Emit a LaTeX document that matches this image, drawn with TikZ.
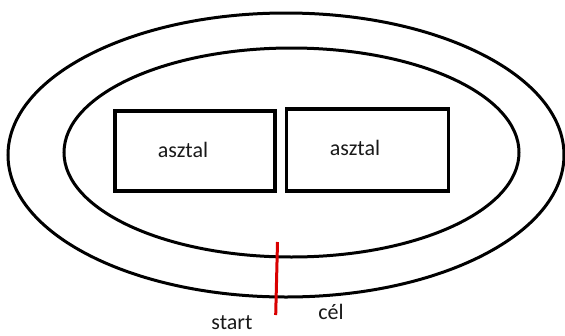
\documentclass[tikz,border=0pt]{standalone}
\usepackage{fontspec}
\setmainfont{Carlito}
\usetikzlibrary{shapes.geometric}
\begin{document}
\begin{tikzpicture}[x=1pt,y=-1pt,
  track/.style={draw=black, line width=3pt, ellipse, inner sep=0pt},
  table/.style={draw=black, line width=3.5pt, rectangle, inner sep=0pt},
  lbl/.style={font=\fontsize{22}{26}\selectfont, text=black!90, inner sep=0pt}]
\useasboundingbox (0,0) rectangle (565,335);
\node[track, minimum width=556pt, minimum height=284pt] (outer) at (286,155) {};
\node[track, minimum width=455pt, minimum height=209pt] (inner) at (291.5,152.5) {};
\node[table, minimum width=160pt, minimum height=80pt] (t1) at (195,151) {};
\node[table, minimum width=162pt, minimum height=82pt] (t2) at (367.5,150) {};
\node[lbl] (l1) at (183,150) {asztal};
\node[lbl] (l2) at (355,148) {asztal};
\coordinate (rtop) at (277.5,242);
\coordinate (rbot) at (275.7,315);
\draw[red!85!black, line width=3pt] (rtop) -- (rbot);
\node[lbl] (start) at (232,323) {start};
\node[lbl] (cel) at (331,312) {cél};
\end{tikzpicture}
\end{document}
